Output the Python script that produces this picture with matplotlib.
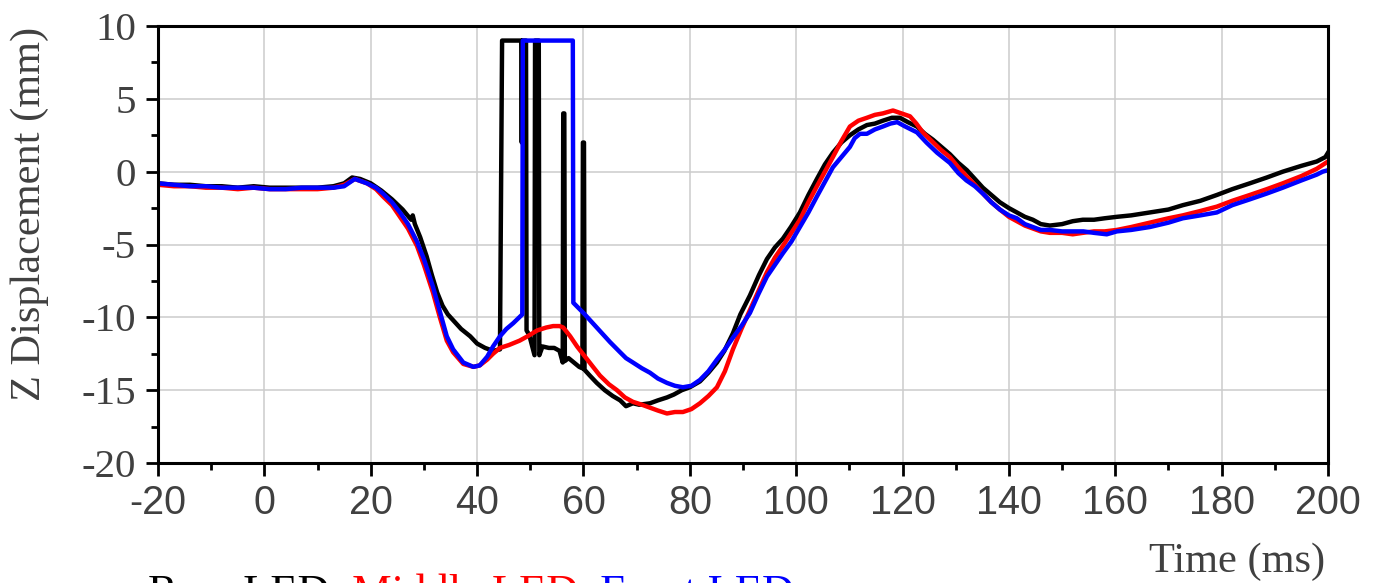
import numpy as np
import matplotlib
matplotlib.use('Agg')
import matplotlib.pyplot as plt
from matplotlib.ticker import MultipleLocator

plt.rcParams['axes.unicode_minus'] = False

# (time ms, z displacement mm)
rear_led = [(-20,-0.8),(-17,-0.9),(-14,-0.9),(-11,-1.0),(-8,-1.0),(-5,-1.1),(-2,-1.0),(1,-1.1),(4,-1.1),(7,-1.1),
            (10,-1.1),(13,-1.0),(15,-0.8),(16.5,-0.4),(18,-0.5),(20,-0.8),(22,-1.3),(24,-1.9),(26,-2.6),(27.6,-3.3),
            (27.9,-3.0),(28.3,-3.6),(29.3,-4.5),(30.5,-5.8),(31.5,-7.1),(32.5,-8.3),(33.5,-9.2),(34.5,-9.8),(35.5,-10.2),(37,-10.8),
            (38.7,-11.3),(40,-11.8),(41.5,-12.1),(43,-12.3),(44.3,-12.2),(44.7,9.0),(48.3,9.0),(48.4,2.0),(48.5,9.0),(49.2,9.0),
            (49.3,-10.9),(49.8,-11.2),(50.8,-12.6),(50.9,9.0),(51.6,9.0),(51.7,-12.6),(52.3,-12.0),(53.5,-12.1),(54.5,-12.1),(55.5,-12.3),
            (56.1,-13.1),(56.2,4.0),(56.4,4.0),(56.5,-13.0),(57.2,-12.8),(58.2,-13.1),(59.2,-13.4),(59.8,-13.5),(59.9,2.0),(60.1,2.0),
            (60.2,-13.6),(61.2,-14.0),(62.5,-14.5),(64,-15.0),(65.5,-15.4),(66.9,-15.7),(68,-16.1),(69.3,-15.9),(70.5,-16.0),(72.5,-15.9),
            (74,-15.7),(75.7,-15.5),(77,-15.3),(78.5,-15.0),(80,-14.8),(81.9,-14.4),(83.5,-13.8),(85.1,-13.1),(86.5,-12.3),(88.1,-11.1),
            (89.5,-9.8),(91.3,-8.5),(93,-7.1),(94.5,-6.0),(96,-5.2),(97.5,-4.6),(99,-3.8),(100.7,-2.8),(102.3,-1.6),(103.9,-0.5),
            (105.4,0.5),(106.9,1.3),(108.5,2.0),(110.1,2.5),(111.7,2.9),(113.3,3.2),(114.8,3.3),(116.3,3.5),(118,3.7),(119.5,3.7),
            (121,3.4),(122.7,3.1),(124.2,2.6),(125.7,2.2),(127.3,1.7),(128.9,1.2),(130.5,0.6),(132.1,0.1),(133.6,-0.5),(135.1,-1.1),
            (136.7,-1.6),(138.3,-2.1),(140,-2.5),(141.5,-2.8),(143,-3.1),(144.5,-3.3),(146,-3.6),(147.7,-3.7),(150,-3.6),(152,-3.4),
            (153.9,-3.3),(156,-3.3),(158,-3.2),(160.3,-3.1),(163,-3.0),(166.5,-2.8),(170,-2.6),(172.7,-2.3),(176,-2.0),(179.1,-1.6),
            (182,-1.2),(185.3,-0.8),(188.5,-0.4),(191.5,0.0),(195,0.4),(197.9,0.7),(199.5,1.0),(200,1.3)]

middle_led = [(-20,-0.9),(-17,-1.0),(-14,-1.0),(-11,-1.1),(-8,-1.1),(-5,-1.2),(-2,-1.1),(1,-1.2),(4,-1.2),(7,-1.2),
              (10,-1.2),(13,-1.1),(15,-0.9),(17,-0.5),(19.3,-0.8),(21,-1.2),(22.3,-1.7),(24,-2.3),(25.5,-3.1),(27,-3.9),
              (28.7,-5.1),(30,-6.4),(31.7,-8.3),(33,-10.0),(34.3,-11.6),(35.5,-12.4),(37.4,-13.2),(39.3,-13.4),(40.5,-13.3),(41.9,-12.9),
              (43,-12.5),(44.3,-12.1),(46,-11.9),(48,-11.6),(49.5,-11.3),(51.3,-10.9),(53,-10.7),(54.3,-10.6),(55.5,-10.6),(56.2,-10.7),
              (57.5,-11.3),(58.8,-12.0),(60.3,-12.7),(61.8,-13.4),(63.1,-14.0),(64.8,-14.6),(66.3,-15.0),(67.8,-15.5),(69.3,-15.8),(71,-16.0),
              (72.5,-16.2),(74,-16.4),(75.7,-16.6),(77.2,-16.5),(78.7,-16.5),(80.3,-16.3),(81.9,-15.9),(83.5,-15.4),(85.1,-14.8),(86.6,-13.7),
              (88.1,-12.2),(89.7,-10.8),(91.3,-9.5),(92.9,-8.2),(94.5,-6.9),(96,-5.9),(97.5,-5.1),(99.1,-4.2),(100.7,-3.3),(102.3,-2.1),
              (103.9,-1.0),(105.4,0.0),(106.9,1.0),(108.5,2.1),(110.1,3.1),(111.7,3.5),(113.3,3.7),(114.8,3.9),(116.3,4.0),(118.2,4.2),
              (119.8,4.0),(121.4,3.8),(122.6,3.3),(123.8,2.7),(125.5,2.1),(127.2,1.5),(128.9,1.0),(130.5,0.3),(132,-0.3),(133.6,-0.9),
              (135.1,-1.5),(136.7,-2.1),(138.3,-2.6),(140,-3.1),(141.5,-3.4),(143,-3.7),(144.5,-3.9),(146,-4.1),(147.7,-4.2),(150,-4.2),
              (152,-4.3),(153.9,-4.2),(156,-4.1),(158,-4.1),(160.3,-4.0),(163,-3.8),(166.5,-3.5),(170,-3.2),(172.7,-3.0),(176,-2.7),
              (179.1,-2.4),(182,-2.0),(185.3,-1.6),(188.5,-1.2),(191.5,-0.8),(195,-0.3),(197.9,0.2),(200,0.7)]

front_led = [(-20,-0.8),(-17,-0.9),(-14,-1.0),(-11,-1.0),(-8,-1.1),(-5,-1.1),(-2,-1.1),(1,-1.2),(4,-1.2),(7,-1.1),
             (10,-1.1),(13,-1.1),(15,-1.0),(17,-0.5),(19.3,-0.8),(21,-1.1),(22.3,-1.5),(24,-2.1),(25.5,-2.8),(27,-3.6),
             (28.7,-4.8),(30,-6.0),(31.7,-7.9),(33,-9.6),(34.3,-11.3),(35.5,-12.2),(37.4,-13.1),(39.3,-13.4),(40.5,-13.3),(41.9,-12.7),
             (43,-12.0),(44.3,-11.3),(45.5,-10.8),(46.8,-10.4),(48.5,-9.8),(48.6,9.0),(58.0,9.0),(58.1,-9.0),(60,-9.7),(62,-10.5),
             (63.5,-11.1),(65,-11.7),(66.9,-12.4),(68,-12.8),(69.3,-13.1),(71,-13.5),(72.5,-13.8),(74,-14.2),(75.7,-14.5),(77.2,-14.7),
             (78.7,-14.8),(80.3,-14.7),(81.9,-14.3),(83.5,-13.7),(85.1,-12.9),(86.6,-12.2),(88.1,-11.4),(89.7,-10.6),(91.3,-9.7),(92.9,-8.4),
             (94.5,-7.2),(96,-6.4),(97.5,-5.6),(99.1,-4.8),(100.7,-3.8),(102.3,-2.8),(103.9,-1.7),(105.4,-0.7),(106.9,0.3),(108.5,1.0),
             (110.1,1.7),(111,2.3),(112,2.6),(113.3,2.6),(114.8,2.9),(116.3,3.1),(117.7,3.3),(119,3.4),(120.5,3.1),(122.7,2.7),
             (124.5,2.0),(126.5,1.3),(128.9,0.6),(130.5,-0.1),(132,-0.6),(133.6,-1.0),(135.1,-1.5),(136.7,-2.1),(138.3,-2.6),(140,-3.0),
             (141.5,-3.2),(143,-3.6),(144.5,-3.8),(146,-4.0),(147.7,-4.0),(150,-4.1),(152,-4.1),(154,-4.1),(156,-4.2),(158.4,-4.3),
             (160.3,-4.1),(163,-4.0),(166.5,-3.8),(170,-3.5),(172.7,-3.2),(176,-3.0),(179.1,-2.8),(182,-2.3),(185.3,-1.9),(188.5,-1.5),
             (191.5,-1.1),(195,-0.6),(197.9,-0.2),(199,0.0),(200,0.1)]

series_names = ['Rear LED', 'Middle LED', 'Front LED']
series_colors = ['black', 'red', 'blue']

serif = ['Liberation Serif', 'DejaVu Serif']
sans = ['Liberation Sans', 'DejaVu Sans']
gray = '#404040'

fig = plt.figure(figsize=(13.87, 5.83), dpi=100)
ax = fig.add_axes([158/1387, 1-463/583, 1170/1387, 437/583])

for data, col in zip([rear_led, middle_led, front_led], series_colors):
    t, z = np.array(data).T
    ax.plot(t, z, color=col, lw=3.2, solid_joinstyle='round')

ax.set_xlim(-20, 200)
ax.set_ylim(-20, 10)
ax.xaxis.set_major_locator(MultipleLocator(20))
ax.xaxis.set_minor_locator(MultipleLocator(10))
ax.yaxis.set_major_locator(MultipleLocator(5))
ax.yaxis.set_minor_locator(MultipleLocator(2.5))
ax.grid(True, which='major', color='#cccccc', lw=1.1)
ax.set_axisbelow(True)

for s in ax.spines.values():
    s.set_linewidth(2.2)
ax.tick_params(which='major', direction='out', length=9, width=2, colors='black')
ax.tick_params(which='minor', direction='out', length=5, width=2, colors='black')
ax.tick_params(axis='x', which='major', pad=6, labelcolor=gray)
ax.tick_params(axis='y', which='major', pad=7, labelcolor=gray)

for lab in ax.get_xticklabels():
    lab.set_fontfamily(sans)
    lab.set_fontsize(28.5)
for lab in ax.get_yticklabels():
    lab.set_fontfamily(serif)
    lab.set_fontsize(29.5)

fig.text(30/1387, 1-214/583, 'Z Displacement (mm)', rotation=90, ha='center', va='center',
         fontsize=30.5, family=serif, color=gray)
fig.text(1325/1387, 1-572/583, 'Time (ms)', ha='right', va='baseline',
         fontsize=30.5, family=serif, color=gray)

# coloured legend line at the bottom, partly cut off by the figure edge
prev = fig.text(148/1387, 1-605/583, series_names[0] + ',', ha='left', va='baseline',
                fontsize=32, family=serif, color=series_colors[0])
parts = [' ' + series_names[1] + ',', ' ' + series_names[2]]
for txt, col in zip(parts, series_colors[1:]):
    prev = ax.annotate(txt, xy=(1, 0), xycoords=prev, ha='left', va='bottom',
                       fontsize=32, family=serif, color=col, annotation_clip=False)

fig.savefig('out.png', dpi=100)
